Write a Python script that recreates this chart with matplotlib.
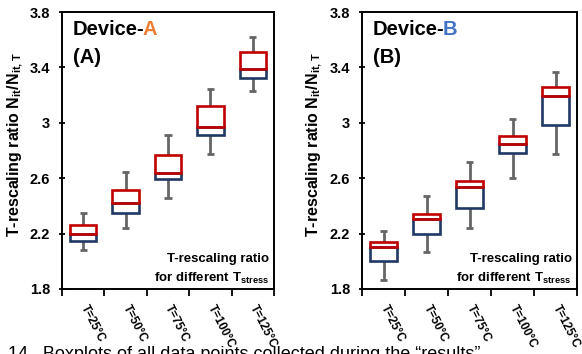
import matplotlib
matplotlib.use("Agg")
import matplotlib.pyplot as plt
import numpy as np

FONT = 'Liberation Sans'
plt.rcParams['font.family'] = [FONT, 'DejaVu Sans']
plt.rcParams['font.weight'] = 'bold'
plt.rcParams['mathtext.fontset'] = 'custom'
plt.rcParams['mathtext.rm'] = FONT + ':bold'
plt.rcParams['mathtext.it'] = FONT + ':bold'
plt.rcParams['mathtext.bf'] = FONT + ':bold'

categories = ["T=25°C", "T=50°C", "T=75°C", "T=100°C", "T=125°C"]

# Device A
a_min = [2.079, 2.238, 2.455, 2.775, 3.232]
a_q1 = [2.144, 2.347, 2.592, 2.914, 3.323]
a_med = [2.197, 2.419, 2.635, 2.967, 3.391]
a_q3 = [2.262, 2.515, 2.767, 3.121, 3.511]
a_max = [2.347, 2.647, 2.910, 3.242, 3.617]

# Device B
b_min = [1.865, 2.069, 2.238, 2.599, 2.777]
b_q1 = [2.004, 2.197, 2.387, 2.784, 2.986]
b_med = [2.105, 2.303, 2.534, 2.847, 3.196]
b_q3 = [2.142, 2.344, 2.580, 2.902, 3.258]
b_max = [2.221, 2.474, 2.719, 3.025, 3.367]

yticks = [1.8, 2.2, 2.6, 3.0, 3.4, 3.8]
yticklabels = ["1.8", "2.2", "2.6", "3", "3.4", "3.8"]

RED = "#C00000"
NAVY = "#1F3864"
GRAY = "#666666"
ORANGE = "#ED7D31"
BLUE = "#4472C4"

W, H = 582, 354
fig = plt.figure(figsize=(W / 100, H / 100), dpi=100)


def panel(rect, mn, q1, med, q3, mx, dev, devcolor, tag):
    ax = fig.add_axes(rect)
    x = np.arange(len(categories))
    mn, q1, med, q3, mx = map(np.asarray, (mn, q1, med, q3, mx))
    bw = 0.62
    cw = 0.17
    # whiskers
    ax.vlines(x, q3, mx, color=GRAY, lw=2.0, zorder=2)
    ax.vlines(x, mn, q1, color=GRAY, lw=2.0, zorder=2)
    ax.hlines(mx, x - cw / 2, x + cw / 2, color=GRAY, lw=2.0, zorder=2)
    ax.hlines(mn, x - cw / 2, x + cw / 2, color=GRAY, lw=2.0, zorder=2)
    # boxes
    ax.bar(x, med - q1, bottom=q1, width=bw, fill=False, edgecolor=NAVY,
           linewidth=1.9, zorder=3)
    ax.bar(x, q3 - med, bottom=med, width=bw, fill=False, edgecolor=RED,
           linewidth=1.9, zorder=4)

    ax.set_xlim(-0.5, len(categories) - 0.5)
    ax.set_ylim(1.8, 3.8)
    ax.set_yticks(yticks)
    ax.set_yticklabels(yticklabels, fontsize=10.5, fontweight='bold')
    ax.set_xticks(np.arange(len(categories) + 1) - 0.5)
    ax.set_xticklabels([])
    ax.set_xticks(x, minor=True)
    ax.set_xticklabels(categories, minor=True, rotation=-63, ha='left',
                       va='center', rotation_mode='anchor', fontsize=8.5,
                       fontweight='bold')
    ax.tick_params(axis='x', which='minor', length=0, pad=12)
    ax.tick_params(axis='x', which='major', length=5, width=1.3,
                   direction='out')
    ax.tick_params(axis='y', length=5, width=1.3, direction='inout', pad=6)
    for s in ax.spines.values():
        s.set_linewidth(1.4)
        s.set_color('black')

    ax.set_ylabel(r"T-rescaling ratio N$_\mathrm{it}$/N$_\mathrm{it,T}$",
                  fontsize=11.5, fontweight='bold')
    ax.yaxis.set_label_coords(-0.175, 0.52)

    t1 = ax.text(0.05, 0.97, "Device-", transform=ax.transAxes,
                 fontsize=14.5, fontweight='bold', ha='left', va='top')
    ax.annotate(dev, xy=(1, 0), xycoords=t1, xytext=(-1, 0),
                textcoords='offset points', fontsize=14.5, fontweight='bold',
                color=devcolor, ha='left', va='bottom')
    ax.text(0.05, 0.87, tag, transform=ax.transAxes, fontsize=14.5,
            fontweight='bold', ha='left', va='top')

    ax.text(0.975, 0.098, "T-rescaling ratio", transform=ax.transAxes,
            fontsize=9.5, fontweight='bold', ha='right', va='baseline')
    ax.text(0.975, 0.025, r"for different T$_\mathrm{stress}$",
            transform=ax.transAxes, fontsize=9.5, fontweight='bold',
            ha='right', va='baseline')
    return ax


bot = (H - 289) / H
hgt = 277 / H
panel([62 / W, bot, 212 / W, hgt], a_min, a_q1, a_med, a_q3, a_max,
      "A", ORANGE, "(A)")
panel([362 / W, bot, 215 / W, hgt], b_min, b_q1, b_med, b_q3, b_max,
      "B", BLUE, "(B)")

fig.text(8 / W, -5 / H,
         "14.  Boxplots of all data points collected during the \u201cresults\u201d",
         fontsize=13, fontweight='normal', ha='left', va='baseline')

fig.savefig("out.png", dpi=100)
